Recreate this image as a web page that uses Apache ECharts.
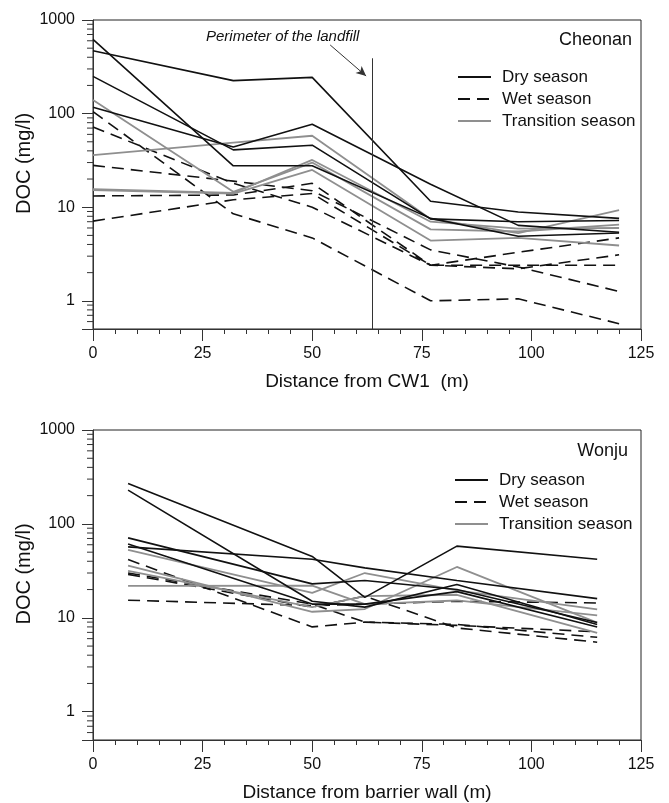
<!DOCTYPE html>
<html>
<head>
<meta charset="utf-8">
<script src="https://cdn.jsdelivr.net/npm/echarts@6/dist/echarts.min.js"></script>
<style>
html,body{margin:0;padding:0;background:#fff;}
#chart{width:669px;height:803px;}
</style>
</head>
<body>
<div id="chart"></div>
<script>
// ---------- data ----------
const legendNames = ['Dry season', 'Wet season', 'Transition season'];
const yTickLabels = ['1', '10', '100', '1000'];

// Cheonan (top panel)
const cheonanX = [0, 32, 50, 77, 97, 120];
const cheonanDry = [
  [620, 27.7, 27.7, 7.6, 4.9, 5.3],
  [470, 225, 244, 11.6, 8.9, 7.6],
  [117, 44, 77, 17.6, 6.4, 5.4],
  [250, 41, 46, 7.5, 7.0, 7.2]
];
const cheonanWet = [
  [105, 8.5, 4.7, 1.0, 1.05, 0.57],
  [72, 18, 10, 2.4, 2.2, 3.1],
  [28, 19, 15, 3.5, 2.3, 1.26],
  [13.2, 13.5, 18, 2.4, 3.3, 4.7],
  [7.1, 12, 14, 2.4, 2.4, 2.4]
];
const cheonanTransition = [
  [140, 14.6, 30, 5.8, 5.5, 6.5],
  [36, 49, 58, 7.5, 5.3, 9.3],
  [15.6, 14.2, 32, 7.0, 5.9, 6.0],
  [15.2, 14.0, 25, 4.4, 4.7, 3.9]
];
const perimeterX = 63.6;
const perimeterTop = 390;
const arrowFrom = [54.1, 541];
const arrowTo = [62.3, 252];

// Wonju (bottom panel)
const wonjuX = [8, 50, 62, 83, 115];
const wonjuDry = [
  [270, 45, 16.5, 58, 42],
  [229, 15, 13, 22.6, 8.5],
  [71, 23, 25, 20, 8.9],
  [57, 42, 34, 25, 16],
  [61, 14, 14, 19, 8.0]
];
const wonjuWet = [
  [41.7, 8.0, 9.0, 8.5, 6.2],
  [29, 13, 17, 7.8, 5.5],
  [30, 14, 9, 8.3, 7.1],
  [15.4, 13.5, 14, 15, 14.4]
];
const wonjuTransition = [
  [53, 18.4, 30, 19.6, 12.3],
  [36, 11.6, 12.4, 34.8, 8.9],
  [31.6, 13, 17, 17.6, 6.9],
  [21.9, 22, 14, 15.3, 10.6]
];

// minor tick values for the log axis (2..9 x 10^n)
const minorMultipliers = [2, 3, 4, 5, 6, 7, 8, 9];
const minorDecades = [0.1, 1, 10, 100];

// ---------- build ----------
const FONT = 'Liberation Sans, Arial, Helvetica, sans-serif';
const BLACK = '#111';
const GRAY = '#8f8f8f';
const AXIS = '#333';

const styles = {
  'Dry season': {color: BLACK, width: 1.6, type: 'solid'},
  'Wet season': {color: BLACK, width: 1.6, type: [12, 7]},
  'Transition season': {color: GRAY, width: 1.8, type: 'solid'}
};

const series = [];
function addGroup(name, xs, rows, gi) {
  rows.forEach(r => {
    const st = styles[name];
    series.push({
      type: 'line', name: name, xAxisIndex: gi, yAxisIndex: gi,
      data: r.map((v, i) => [xs[i], v]),
      symbol: 'none', showSymbol: false, silent: true,
      color: st.color,
      lineStyle: {color: st.color, width: st.width, type: st.type}
    });
  });
}
// draw order: wet, transition, dry
addGroup('Wet season', cheonanX, cheonanWet, 0);
addGroup('Transition season', cheonanX, cheonanTransition, 0);
addGroup('Dry season', cheonanX, cheonanDry, 0);
addGroup('Wet season', wonjuX, wonjuWet, 1);
addGroup('Transition season', wonjuX, wonjuTransition, 1);
addGroup('Dry season', wonjuX, wonjuDry, 1);

// perimeter annotation
series.push({
  type: 'line', xAxisIndex: 0, yAxisIndex: 0, data: [], silent: true,
  markLine: {
    silent: true, animation: false,
    symbol: ['none', 'none'],
    label: {show: false},
    lineStyle: {color: '#333', width: 1, type: 'solid'},
    data: [
      [{coord: [perimeterX, 0.5]}, {coord: [perimeterX, perimeterTop]}],
      [{coord: arrowFrom, symbol: 'none'}, {coord: arrowTo, symbol: 'arrow', symbolSize: [7, 10]}]
    ]
  }
});

// minor ticks on log axes
const minorVals = [];
minorDecades.forEach(d => minorMultipliers.forEach(m => {
  const v = +(m * d).toPrecision(6);
  if (v > 0.5 && v < 1000) minorVals.push(v);
}));
[0, 1].forEach(gi => {
  series.push({
    type: 'custom', xAxisIndex: gi, yAxisIndex: gi, silent: true, clip: false,
    data: minorVals.map(v => [0, v]),
    renderItem: function (params, api) {
      const p = api.coord([0, api.value(1)]);
      return {type: 'line', shape: {x1: p[0] - 6, y1: p[1], x2: p[0], y2: p[1]},
        style: {stroke: AXIS, lineWidth: 1}};
    }
  });
});

function xAxisDef(gi, name) {
  return {
    gridIndex: gi, type: 'value', min: 0, max: 125, interval: 25,
    name: name, nameLocation: 'middle', nameGap: 43, nameMoveOverlap: false,
    nameTextStyle: {fontFamily: FONT, fontSize: 19, color: '#111'},
    axisLine: {show: true, lineStyle: {color: AXIS, width: 1}},
    axisTick: {show: true, length: 12, lineStyle: {color: AXIS}},
    minorTick: {show: true, splitNumber: 5, length: 5, lineStyle: {color: AXIS}},
    splitLine: {show: false},
    axisLabel: {fontFamily: FONT, fontSize: 16, color: '#111', margin: 17}
  };
}
function yAxisDef(gi) {
  return {
    gridIndex: gi, type: 'log', logBase: 10, min: 0.5, max: 1000,
    name: 'DOC (mg/l)', nameLocation: 'middle', nameGap: 59, nameRotate: 90, nameMoveOverlap: false,
    nameTextStyle: {fontFamily: FONT, fontSize: 20, color: '#111', padding: [0, 0, 0, 22]},
    axisLine: {show: true, lineStyle: {color: AXIS, width: 1}},
    axisTick: {show: true, length: 11, lineStyle: {color: AXIS}},
    splitLine: {show: false},
    axisLabel: {
      fontFamily: FONT, fontSize: 16, color: '#111', margin: 18,
      formatter: function (v) {
        const l = Math.log10(v);
        if (Math.abs(l - Math.round(l)) < 1e-6) {
          const s = String(Math.round(Math.pow(10, Math.round(l))));
          return yTickLabels.indexOf(s) >= 0 ? s : '';
        }
        return '';
      }
    }
  };
}
function legendDef(left, top) {
  return {
    data: legendNames, orient: 'vertical', left: left, top: top, padding: 0,
    itemWidth: 33, itemHeight: 10, itemGap: 2, selectedMode: false,
    itemStyle: {opacity: 0, borderWidth: 0},
    textStyle: {fontFamily: FONT, fontSize: 17, color: '#111', lineHeight: 20, padding: [0, 0, 0, 6]}
  };
}

const option = {
  animation: false,
  backgroundColor: '#fff',
  grid: [
    {left: 93, top: 20, width: 548, height: 309, show: true, borderColor: '#222', borderWidth: 1, backgroundColor: 'transparent'},
    {left: 93, top: 430, width: 548, height: 310, show: true, borderColor: '#222', borderWidth: 1, backgroundColor: 'transparent'}
  ],
  title: [
    {text: 'Cheonan', right: 37, top: 31, padding: 0,
      textStyle: {fontFamily: FONT, fontSize: 18, fontWeight: 'normal', color: '#111'}},
    {text: 'Wonju', right: 41, top: 442, padding: 0,
      textStyle: {fontFamily: FONT, fontSize: 18, fontWeight: 'normal', color: '#111'}}
  ],
  legend: [legendDef(457, 67), legendDef(454, 470)],
  xAxis: [xAxisDef(0, 'Distance from CW1  (m)'), xAxisDef(1, 'Distance from barrier wall (m)')],
  yAxis: [yAxisDef(0), yAxisDef(1)],
  graphic: [
    {type: 'text', left: 206, top: 29, silent: true,
      style: {text: 'Perimeter of the landfill', font: 'italic 15px ' + FONT, fill: '#111'}}
  ],
  series: series
};

const chart = echarts.init(document.getElementById('chart'), null, {renderer: 'canvas'});
chart.setOption(option);
</script>
</body>
</html>
